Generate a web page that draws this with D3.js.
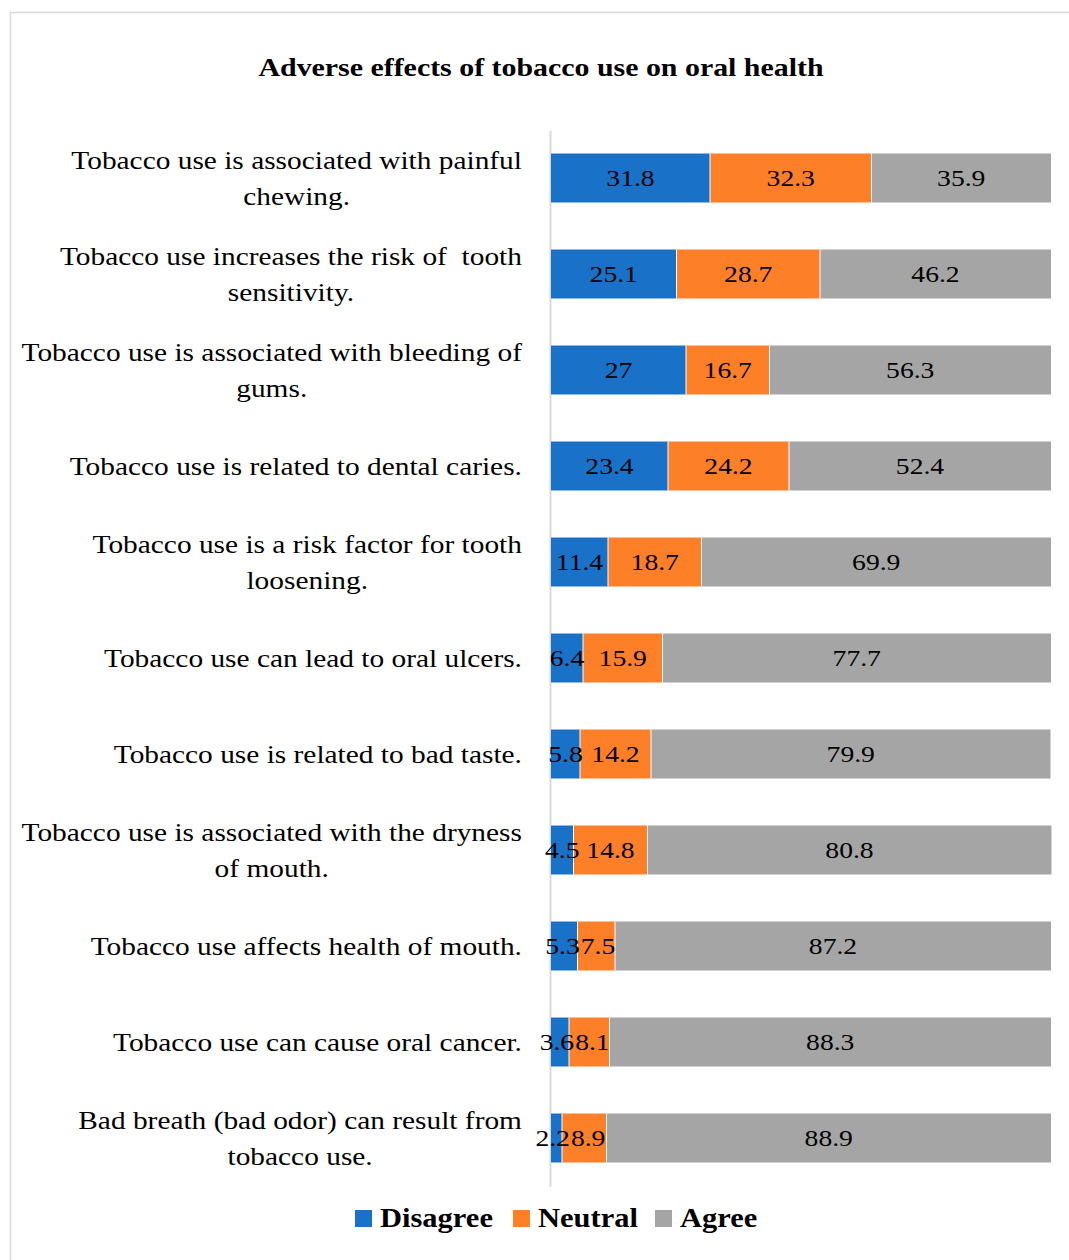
<!DOCTYPE html>
<html><head><meta charset="utf-8">
<script src="https://cdn.jsdelivr.net/npm/d3@7"></script>
<style>body{margin:0;background:#fff}svg{display:block}</style>
</head><body>
<svg id="c" width="1069" height="1260"></svg>
<script>
const categories = [
  ["Tobacco use is associated with painful","chewing."],
  ["Tobacco use increases the risk of  tooth","sensitivity."],
  ["Tobacco use is associated with bleeding of","gums."],
  ["Tobacco use is related to dental caries."],
  ["Tobacco use is a risk factor for tooth","loosening."],
  ["Tobacco use can lead to oral ulcers."],
  ["Tobacco use is related to bad taste."],
  ["Tobacco use is associated with the dryness","of mouth."],
  ["Tobacco use affects health of mouth."],
  ["Tobacco use can cause oral cancer."],
  ["Bad breath (bad odor) can result from","tobacco use."]
];
const disagree = [31.8,25.1,27,23.4,11.4,6.4,5.8,4.5,5.3,3.6,2.2];
const neutral  = [32.3,28.7,16.7,24.2,18.7,15.9,14.2,14.8,7.5,8.1,8.9];
const agree    = [35.9,46.2,56.3,52.4,69.9,77.7,79.9,80.8,87.2,88.3,88.9];
const seriesNames = ["Disagree","Neutral","Agree"];
const colors = ["#1971C8","#FD7F27","#A5A5A5"];
const title = "Adverse effects of tobacco use on oral health";

const font = "'Palatino Linotype','Book Antiqua',Palatino,'Liberation Serif',serif";
const SX = 1.13; // horizontal stretch to mimic Palatino widths
const svg = d3.select("#c");

function stretched(parent, x, y, sx){
  return parent.append("g").attr("transform",`translate(${x},${y}) scale(${sx},1)`)
    .append("text").attr("x",0).attr("y",0).attr("font-family",font).attr("fill","#000");
}

// border
svg.append("rect").attr("x",10.5).attr("y",12.5).attr("width",1100).attr("height",1300)
  .attr("fill","none").attr("stroke","#d9d9d9").attr("stroke-width",1.5);

stretched(svg,541,76,1.15).attr("text-anchor","middle")
  .attr("font-weight","bold").attr("font-size",26).text(title);

const rows = categories.map((c,i)=>({i, lines:c, vals:[disagree[i],neutral[i],agree[i]]}));
const y = d3.scaleBand().domain(d3.range(categories.length)).range([130,1186]).paddingInner(0.49).paddingOuter(0.245);
const x = d3.scaleLinear().domain([0,100]).range([551,1051]);

// axis line (behind marks)
svg.append("g").attr("transform","translate(550,0)")
  .call(d3.axisLeft(y).tickSize(0).tickFormat(""))
  .call(s=>s.select(".domain").attr("stroke","#d9d9d9").attr("stroke-width",2));

const stack = d3.stack().keys([0,1,2]).value((d,k)=>d.vals[k]);
const layers = stack(rows);

const g = svg.append("g");
layers.forEach((layer,k)=>{
  g.selectAll(null).data(layer).enter().append("rect")
    .attr("x",d=>x(d[0])).attr("y",d=>y(d.data.i))
    .attr("width",d=>x(d[1])-x(d[0])).attr("height",y.bandwidth())
    .attr("fill",colors[k]);
});
layers.slice(0,2).forEach(layer=>{
  g.selectAll(null).data(layer).enter().append("line")
    .attr("x1",d=>x(d[1])).attr("x2",d=>x(d[1]))
    .attr("y1",d=>y(d.data.i)).attr("y2",d=>y(d.data.i)+y.bandwidth())
    .attr("stroke","#fff").attr("stroke-width",1);
});

// data labels with simple collision relaxation per row
const LSX = 1.15;
rows.forEach(r=>{
  const items = layers.map((layer,k)=>{
    const d = layer[r.i];
    const t = stretched(g,0,0,LSX).attr("text-anchor","middle").attr("font-size",24).text(r.vals[k]);
    return {t, c:(x(d[0])+x(d[1]))/2, w:t.node().getComputedTextLength()*LSX};
  });
  for(let it=0; it<20; it++){
    for(let j=0;j<items.length-1;j++){
      const a=items[j], b=items[j+1];
      const ov = (a.c + a.w/2 + 1) - (b.c - b.w/2);
      if(ov>0){ a.c -= ov/2; b.c += ov/2; }
    }
  }
  const cy = y(r.i)+y.bandwidth()/2+8;
  items.forEach(o=>d3.select(o.t.node().parentNode).attr("transform",`translate(${o.c},${cy}) scale(${LSX},1)`));
});

// category labels
const lab = svg.append("g");
rows.forEach(r=>{
  const cy = y(r.i)+y.bandwidth()/2;
  const n = r.lines.length;
  const outer = lab.append("g");
  const t = outer.append("text").attr("font-family",font).attr("font-size",26).attr("fill","#000")
    .attr("text-anchor","middle").attr("xml:space","preserve");
  const spans = r.lines.map((l,j)=>t.append("tspan").text(l)
    .attr("y", cy + 9 + (j-(n-1)/2)*36));
  const w = d3.max(spans, s=>s.node().getComputedTextLength());
  spans.forEach(s=>s.attr("x", 0));
  outer.attr("transform",`translate(${522 - w*SX/2},0) scale(${SX},1)`);
});

// legend
const leg = svg.append("g");
const legX = [355,513,655];
seriesNames.forEach((s,k)=>{
  leg.append("rect").attr("x",legX[k]).attr("y",1210).attr("width",17).attr("height",17).attr("fill",colors[k]);
  stretched(leg,legX[k]+25,1227,1.13).attr("font-weight","bold").attr("font-size",27).text(s);
});
</script>
</body></html>
